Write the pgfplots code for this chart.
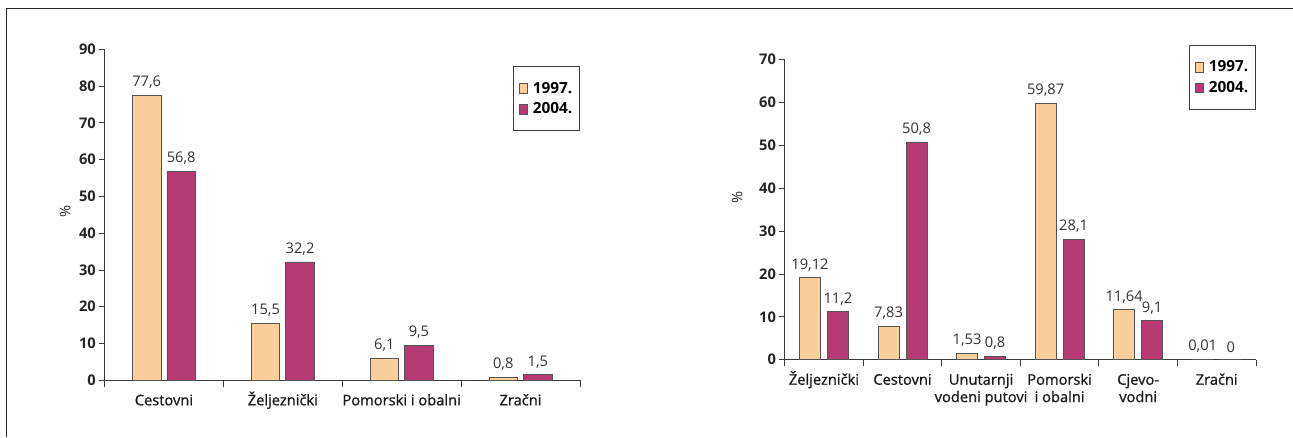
\documentclass[border=0pt]{standalone}
\usepackage{fontspec}
\setmainfont{Open Sans}
\newfontfamily\catfont[FakeBold=0.9]{Open Sans}
\usepackage{pgfplots}
\pgfplotsset{compat=1.18}
\definecolor{cA}{RGB}{249,208,155}
\definecolor{cB}{RGB}{181,57,114}
\definecolor{edge}{RGB}{85,85,85}
\definecolor{axc}{RGB}{60,60,60}
\newcommand{\zs}{\vphantom{Ž}}
\pgfplotsset{
  mybars/.style={
    ybar,
    scale only axis,
    axis x line*=bottom, axis y line*=left,
    axis line style={-, draw=axc, line width=0.7pt},
    ymin=0,
    tick align=outside,
    major tick length=4pt,
    minor tick length=5pt,
    xtick style={draw=none},
    minor x tick style={draw=axc, line width=0.7pt},
    ytick style={draw=axc, line width=0.7pt},
    /pgf/number format/assume math mode=true,
    yticklabel style={font=\fontsize{11}{13}\selectfont\bfseries, text=black!85, xshift=1pt},
    xticklabel style={font=\fontsize{11}{13}\catfont, text=black!90, align=center, yshift=-1pt},
    nodes near coords,
    point meta=explicit symbolic,
    every node near coord/.append style={font=\fontsize{11}{13}\selectfont, text=black!80, yshift=1.5pt},
    legend style={draw=axc, line width=0.7pt, font=\fontsize{11.5}{13}\selectfont\bfseries,
      inner xsep=4pt, inner ysep=10pt, row sep=2.5pt, cells={anchor=west},
      nodes={inner sep=1.5pt}, /tikz/column sep=2pt},
    ylabel style={font=\fontsize{11}{13}\selectfont, text=black!85},
  },
  legA/.style={legend image code/.code={\draw[fill=cA,draw=edge,line width=0.5pt] (0pt,-3.7pt) rectangle (6.4pt,3.7pt);}},
  legB/.style={legend image code/.code={\draw[fill=cB,draw=edge,line width=0.5pt] (0pt,-3.7pt) rectangle (6.4pt,3.7pt);}},
}
\begin{document}
\begin{tikzpicture}
\useasboundingbox (0pt,0pt) rectangle (969.75pt,327.75pt);
\draw[black!85, line width=0.8pt] (4.9pt,0pt) -- (4.9pt,321.4pt) -- (969.75pt,321.4pt);
\begin{axis}[mybars,
  at={(78.375pt,42.525pt)}, anchor=south west,
  width=356.6pt, height=248.25pt,
  bar width=21.4pt, ybar=4.5pt,
  xmin=-0.5, xmax=3.5, ymax=90,
  ytick={0,10,...,90},
  xtick={0,1,2,3},
  xticklabels={Cestovni\zs, Željeznički, Pomorski i obalni\zs, Zračni\zs},
  minor xtick={-0.5,0.5,1.5,2.5,3.5},
  ylabel={\%},
  ylabel style={at={(axis description cs:-0.083,0.511)}, anchor=center},
  legend style={at={(1,0.949)}, anchor=north east},
]
\addplot[fill=cA, draw=edge, line width=0.5pt, legA] coordinates {(0,77.6) [77,6] (1,15.5) [15,5] (2,6.1) [6,1] (3,0.8) [0,8]};
\addplot[fill=cB, draw=edge, line width=0.5pt, legB] coordinates {(0,56.8) [56,8] (1,32.2) [32,2] (2,9.5) [9,5] (3,1.5) [1,5]};
\legend{1997., 2004.}
\end{axis}
\begin{axis}[mybars,
  at={(588.5pt,57.975pt)}, anchor=south west,
  width=353.5pt, height=225pt,
  bar width=15.75pt, ybar=5.25pt,
  xmin=-0.5, xmax=5.5, ymax=70,
  ytick={0,10,...,70},
  xtick={0,1,2,3,4,5},
  xticklabels={Željeznički, Cestovni\zs, {Unutarnji\zs\\vodeni putovi}, {Pomorski\zs\\i obalni}, {Cjevo-\zs\\vodni}, Zračni\zs},
  minor xtick={-0.5,0.5,1.5,2.5,3.5,4.5,5.5},
  ylabel={\%},
  ylabel style={at={(axis description cs:-0.101,0.542)}, anchor=center},
  legend style={at={(1,1.049)}, anchor=north east},
]
\addplot[fill=cA, draw=edge, line width=0.5pt, legA] coordinates {(0,19.12) [19,12] (1,7.83) [7,83] (2,1.53) [1,53] (3,59.87) [59,87] (4,11.64) [11,64] (5,0.01) [0,01]};
\addplot[fill=cB, draw=edge, line width=0.5pt, legB] coordinates {(0,11.2) [11,2] (1,50.8) [50,8] (2,0.8) [0,8] (3,28.1) [28,1] (4,9.1) [9,1] (5,0) [0]};
\legend{1997., 2004.}
\end{axis}
\end{tikzpicture}
\end{document}
